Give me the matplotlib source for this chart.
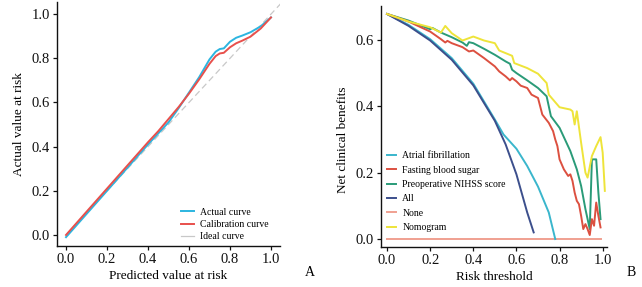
import matplotlib
matplotlib.use("Agg")
import matplotlib.pyplot as plt
from matplotlib.lines import Line2D

plt.rcParams['font.family'] = ['Liberation Serif', 'DejaVu Serif']

# ---- Panel A: calibration ----
pred_x = [0.0, 0.1, 0.2, 0.3, 0.4, 0.45, 0.5, 0.55, 0.6, 0.65, 0.7, 0.73, 0.75, 0.77, 0.8, 0.83, 0.86, 0.9, 0.95, 1.0]
actual_y = [-0.01, 0.095, 0.2, 0.305, 0.41, 0.46, 0.51, 0.575, 0.645, 0.715, 0.795, 0.83, 0.842, 0.845, 0.875, 0.893, 0.903, 0.918, 0.945, 0.985]
calib_y = [0.0, 0.105, 0.21, 0.315, 0.42, 0.47, 0.525, 0.58, 0.64, 0.705, 0.775, 0.81, 0.822, 0.825, 0.85, 0.868, 0.88, 0.898, 0.935, 0.985]
ideal = [0.0, 1.05]

# ---- Panel B: decision curves ----
t_all = [0.0, 0.1, 0.2, 0.3, 0.4, 0.5, 0.55, 0.6, 0.65, 0.68]
nb_all = [0.678, 0.642, 0.598, 0.540, 0.463, 0.356, 0.285, 0.195, 0.08, 0.02]

t_af = [0.0, 0.1, 0.2, 0.3, 0.4, 0.5, 0.54, 0.6, 0.65, 0.7, 0.75, 0.78]
nb_af = [0.678, 0.645, 0.602, 0.545, 0.468, 0.36, 0.315, 0.272, 0.22, 0.158, 0.08, 0.0]

t_fbs = [0.0, 0.1, 0.2, 0.25, 0.27, 0.28, 0.3, 0.35, 0.38, 0.4, 0.45, 0.5, 0.52, 0.55, 0.57, 0.58,
         0.6, 0.62, 0.65, 0.67, 0.7, 0.72, 0.75, 0.77, 0.78, 0.79, 0.8, 0.82, 0.84, 0.85, 0.86,
         0.87, 0.88, 0.89, 0.9, 0.91, 0.92, 0.93, 0.94, 0.95, 0.96, 0.97, 0.98, 0.99]
nb_fbs = [0.678, 0.655, 0.625, 0.602, 0.592, 0.597, 0.59, 0.578, 0.565, 0.568, 0.545, 0.52, 0.505, 0.49, 0.478, 0.485,
          0.475, 0.462, 0.455, 0.435, 0.425, 0.375, 0.35, 0.325, 0.30, 0.28, 0.24, 0.21, 0.19, 0.195, 0.175,
          0.14, 0.115, 0.105, 0.07, 0.03, 0.045, 0.03, 0.012, 0.06, 0.04, 0.11, 0.07, 0.035]

t_nihss = [0.0, 0.1, 0.2, 0.21, 0.25, 0.3, 0.35, 0.37, 0.38, 0.4, 0.45, 0.5, 0.55, 0.57, 0.58, 0.6,
           0.65, 0.7, 0.74, 0.76, 0.8, 0.85, 0.88, 0.9, 0.92, 0.94, 0.95, 0.97, 0.98, 0.99]
nb_nihss = [0.678, 0.658, 0.632, 0.636, 0.622, 0.608, 0.592, 0.582, 0.593, 0.59, 0.573, 0.555, 0.535, 0.528, 0.51, 0.5,
            0.478, 0.455, 0.43, 0.37, 0.335, 0.265, 0.21, 0.16, 0.09, 0.03, 0.24, 0.24, 0.14, 0.06]

t_nomo = [0.0, 0.1, 0.2, 0.25, 0.27, 0.3, 0.35, 0.4, 0.45, 0.5, 0.52, 0.55, 0.58, 0.59, 0.65, 0.7,
          0.74, 0.75, 0.8, 0.85, 0.86, 0.87, 0.88, 0.9, 0.92, 0.93, 0.95, 0.97, 0.99, 1.0, 1.01]
nb_nomo = [0.678, 0.655, 0.638, 0.622, 0.642, 0.62, 0.598, 0.61, 0.598, 0.59, 0.568, 0.56, 0.552, 0.53, 0.515, 0.498,
           0.47, 0.435, 0.397, 0.39, 0.385, 0.345, 0.385, 0.29, 0.2, 0.185, 0.25, 0.28, 0.307, 0.26, 0.145]

t_none = [0.0, 0.99]
nb_none = [0.0, 0.0]

fig = plt.figure(figsize=(6.42, 2.87), dpi=100)

TICK_FS = 10.5
LAB_FS = 9.5
LEG_FS = 7

def style(ax):
    for s in ['top', 'right']:
        ax.spines[s].set_visible(False)
    for s in ['left', 'bottom']:
        ax.spines[s].set_linewidth(1.0)
        ax.spines[s].set_color('#111111')
    ax.tick_params(direction='out', length=3, width=0.9, labelsize=TICK_FS, colors='#111111', pad=2)

# Panel A
axA = fig.add_axes([57/642, 1-246/287, (280-57)/642, (246-2)/287])
axA.plot(ideal, ideal, color='#c8c8c8', lw=0.9, ls=(0, (5, 3)))
axA.plot(pred_x, actual_y, color='#2cb5e0', lw=1.4)
axA.plot(pred_x, calib_y, color='#e8504c', lw=1.4)
axA.set_xlim(-0.044, 1.044)
axA.set_ylim(-0.05, 1.055)
axA.set_xticks([0.0, 0.2, 0.4, 0.6, 0.8, 1.0])
axA.set_yticks([0.0, 0.2, 0.4, 0.6, 0.8, 1.0])
axA.set_xticklabels(['0.0', '0.2', '0.4', '0.6', '0.8', '1.0'])
axA.set_yticklabels(['0.0', '0.2', '0.4', '0.6', '0.8', '1.0'])
style(axA)
axA.set_xlabel('Predicted value at risk', fontsize=LAB_FS, labelpad=3)
axA.set_ylabel('Actual value at risk', fontsize=LAB_FS, labelpad=5)
hA = [Line2D([], [], color='#2cb5e0', lw=1.4),
      Line2D([], [], color='#e8504c', lw=1.4),
      Line2D([], [], color='#c8c8c8', lw=0.9)]
axA.legend(hA, ['Actual curve', 'Calibration curve', 'Ideal curve'], loc='lower right',
           bbox_to_anchor=(0.975, -0.005), frameon=False, fontsize=LEG_FS,
           handlelength=1.4, handletextpad=0.6, labelspacing=0.35, borderaxespad=0.2)
fig.text(310/642, 1-273/287, 'A', fontsize=10, ha='center', va='center')

# Panel B
axB = fig.add_axes([381/642, 1-247/287, (607-381)/642, (247-6)/287])
axB.plot(t_none, nb_none, color='#f0a090', lw=1.4, label='None')
axB.plot(t_af, nb_af, color='#3ab6cc', lw=1.4, label='Atrial fibrillation')
axB.plot(t_all, nb_all, color='#3c4f8c', lw=1.4, label='All')
axB.plot(t_nihss, nb_nihss, color='#2a9b78', lw=1.4, label='Preoperative NIHSS score')
axB.plot(t_fbs, nb_fbs, color='#dc5040', lw=1.4, label='Fasting blood sugar')
axB.plot(t_nomo, nb_nomo, color='#eee43a', lw=1.4, label='Nomogram')
axB.set_xlim(-0.028, 1.02)
axB.set_ylim(-0.024, 0.702)
axB.set_xticks([0.0, 0.2, 0.4, 0.6, 0.8, 1.0])
axB.set_yticks([0.0, 0.2, 0.4, 0.6])
axB.set_xticklabels(['0.0', '0.2', '0.4', '0.6', '0.8', '1.0'])
axB.set_yticklabels(['0.0', '0.2', '0.4', '0.6'])
style(axB)
axB.set_xlabel('Risk threshold', fontsize=LAB_FS, labelpad=3)
axB.set_ylabel('Net clinical benefits', fontsize=LAB_FS)
axB.yaxis.set_label_coords(-0.142, 0.444)
hB = [Line2D([], [], color='#3ab6cc', lw=1.4),
      Line2D([], [], color='#dc5040', lw=1.4),
      Line2D([], [], color='#2a9b78', lw=1.4),
      Line2D([], [], color='#3c4f8c', lw=1.4),
      Line2D([], [], color='#f0a090', lw=1.4),
      Line2D([], [], color='#eee43a', lw=1.4)]
axB.legend(hB, ['Atrial fibrillation', 'Fasting blood sugar', 'Preoperative NIHSS score',
                'All', 'None', 'Nomogram'], loc='lower left', bbox_to_anchor=(0.0, 0.038),
           frameon=False, fontsize=LEG_FS, handlelength=0.9, handletextpad=0.7,
           labelspacing=0.55, borderaxespad=0.2)
fig.text(631/642, 1-273/287, 'B', fontsize=10, ha='center', va='center')

fig.savefig('out.png', dpi=100)
